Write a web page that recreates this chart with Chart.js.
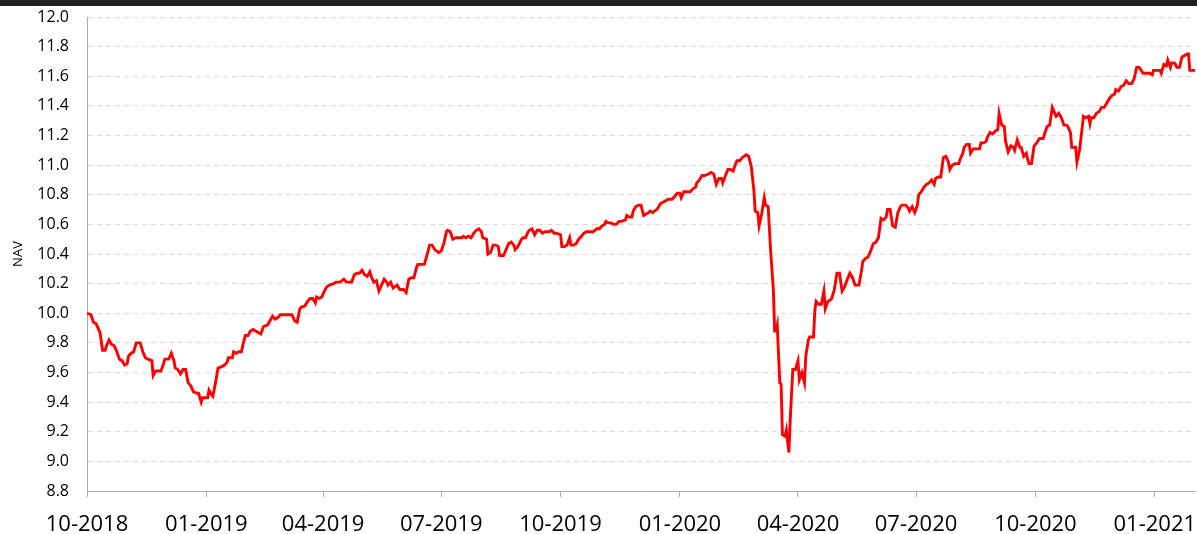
<!DOCTYPE html>
<html>
<head>
<meta charset="utf-8">
<script src="https://cdn.jsdelivr.net/npm/chart.js@4.4.0/dist/chart.umd.min.js"></script>
<style>
html, body { margin: 0; padding: 0; background: #fff; overflow: hidden; }
#bar { position: absolute; left: 0; top: 0; width: 1197px; height: 6px; background: #222; z-index: 2; }
#wrap { position: relative; width: 1197px; height: 553px; }
</style>
</head>
<body>
<div id="bar"></div>
<div id="wrap"><canvas id="myChart"></canvas></div>
<script>
// day offsets counted from startDate, NAV
const startDate = '2018-10-01';
const lastDay = 854;

const days = [
  0, 3, 5, 7, 9, 10, 12, 14, 15, 17, 19, 21, 23, 25, 27, 29, 31, 32, 34, 36, 38, 41, 43, 45, 47, 50,
  51, 53, 55, 57, 59, 60, 63, 65, 67, 68, 70, 72, 74, 76, 78, 80, 82, 85, 86, 88, 89, 91, 93, 94, 96, 97,
  99, 101, 104, 106, 108, 109, 112, 113, 115, 117, 119, 120, 122, 124, 126, 128, 130, 132, 134, 136, 139,
  141, 143, 145, 147, 149, 151, 155, 158, 160, 162, 164, 165, 168, 170, 172, 174, 176, 177, 179, 181, 183,
  185, 187, 190, 192, 195, 198, 200, 202, 204, 206, 208, 210, 212, 214, 216, 218, 219, 221, 223, 225, 227,
  229, 231, 232, 234, 236, 239, 241, 244, 246, 248, 250, 252, 254, 255, 258, 260, 262, 264, 266, 268, 271,
  273, 275, 277, 278, 280, 282, 284, 286, 289, 290, 292, 294, 296, 298, 300, 302, 304, 305, 308, 309, 311,
  313, 315, 317, 318, 321, 323, 325, 327, 329, 330, 332, 335, 336, 338, 340, 341, 343, 345, 347, 349, 351,
  353, 356, 358, 360, 362, 365, 366, 368, 370, 372, 373, 375, 377, 379, 381, 383, 385, 388, 390, 393, 395,
  397, 399, 400, 402, 404, 406, 408, 410, 412, 415, 416, 418, 420, 421, 423, 425, 427, 429, 431, 433, 434,
  436, 439, 440, 442, 444, 446, 448, 451, 453, 455, 457, 458, 460, 462, 465, 467, 469, 470, 472, 474, 476,
  479, 481, 483, 485, 487, 489, 490, 493, 494, 496, 498, 500, 501, 503, 505, 508, 510, 512, 514, 515, 517,
  518, 520, 522, 523, 525, 527, 529, 530, 531, 532, 534, 535, 536, 538, 539, 541, 542, 544, 546, 548, 549,
  551, 553, 554, 556, 557, 560, 561, 562, 564, 566, 568, 569, 571, 573, 574, 576, 578, 580, 582, 584, 586,
  588, 590, 592, 595, 597, 598, 600, 602, 604, 606, 608, 610, 612, 614, 616, 617, 619, 621, 623, 625, 627,
  628, 631, 633, 634, 636, 638, 640, 641, 643, 645, 647, 649, 651, 653, 654, 656, 658, 660, 662, 664, 665,
  667, 669, 672, 673, 675, 676, 678, 680, 681, 683, 686, 688, 689, 691, 693, 694, 696, 698, 700, 702, 703,
  705, 707, 708, 710, 712, 714, 715, 717, 719, 720, 722, 724, 725, 726, 728, 730, 732, 734, 737, 738, 740,
  742, 744, 745, 747, 749, 751, 753, 755, 756, 758, 759, 762, 763, 765, 767, 768, 770, 772, 773, 774, 776,
  778, 780, 782, 784, 786, 788, 790, 792, 793, 795, 797, 799, 801, 803, 805, 807, 809, 811, 814, 817, 819,
  821, 822, 825, 827, 828, 830, 832, 833, 835, 836, 838, 839, 840, 842, 844, 846, 848, 849, 850, 853, 854
];

const nav = [
  10.00, 9.99, 9.94, 9.93, 9.89, 9.87, 9.75, 9.75, 9.78, 9.82, 9.79, 9.78, 9.74, 9.69, 9.68, 9.65, 9.66, 9.71, 9.73, 9.74, 9.80, 9.80, 9.74, 9.70, 9.69, 9.68,
  9.58, 9.61, 9.61, 9.61, 9.66, 9.69, 9.69, 9.73, 9.68, 9.63, 9.62, 9.59, 9.62, 9.62, 9.53, 9.51, 9.47, 9.46, 9.46, 9.40, 9.43, 9.43, 9.43, 9.48, 9.45, 9.44,
  9.53, 9.63, 9.64, 9.65, 9.67, 9.70, 9.70, 9.74, 9.73, 9.74, 9.74, 9.78, 9.85, 9.85, 9.88, 9.89, 9.88, 9.87, 9.86, 9.91, 9.92,
  9.95, 9.98, 9.96, 9.97, 9.99, 9.99, 9.99, 9.99, 9.95, 9.94, 10.03, 10.04, 10.05, 10.08, 10.10, 10.10, 10.07, 10.11, 10.10, 10.11, 10.15,
  10.18, 10.19, 10.20, 10.21, 10.21, 10.23, 10.21, 10.21, 10.21, 10.26, 10.27, 10.27, 10.29, 10.26, 10.25, 10.28, 10.25, 10.21, 10.22, 10.15, 10.19,
  10.23, 10.21, 10.19, 10.21, 10.17, 10.19, 10.16, 10.16, 10.14, 10.23, 10.24, 10.24, 10.31, 10.33, 10.33, 10.33, 10.39, 10.46, 10.46, 10.43, 10.41,
  10.42, 10.47, 10.55, 10.56, 10.55, 10.50, 10.51, 10.51, 10.51, 10.52, 10.51, 10.52, 10.51, 10.54, 10.56, 10.57, 10.55, 10.51, 10.50, 10.40, 10.41,
  10.46, 10.46, 10.45, 10.39, 10.39, 10.43, 10.47, 10.48, 10.46, 10.43, 10.45, 10.50, 10.51, 10.51, 10.55, 10.56, 10.57, 10.53, 10.56, 10.56, 10.54,
  10.55, 10.55, 10.56, 10.54, 10.54, 10.53, 10.45, 10.45, 10.46, 10.51, 10.46, 10.46, 10.47, 10.50, 10.52, 10.54, 10.55, 10.55, 10.55, 10.57, 10.57,
  10.59, 10.60, 10.62, 10.61, 10.61, 10.60, 10.60, 10.62, 10.62, 10.63, 10.66, 10.65, 10.65, 10.69, 10.72, 10.73, 10.73, 10.66, 10.67, 10.68, 10.69,
  10.68, 10.70, 10.71, 10.74, 10.75, 10.76, 10.77, 10.77, 10.79, 10.81, 10.81, 10.78, 10.82, 10.82, 10.82, 10.84, 10.85, 10.88, 10.90, 10.93, 10.93,
  10.94, 10.95, 10.94, 10.87, 10.91, 10.91, 10.88, 10.95, 10.97, 10.97, 10.96, 11.01, 11.03, 11.03, 11.05, 11.07, 11.06, 10.99, 10.83, 10.69, 10.68,
  10.59, 10.67, 10.78, 10.73, 10.72, 10.41, 10.16, 9.88, 9.88, 9.92, 9.53, 9.52, 9.18, 9.17, 9.21, 9.06, 9.28, 9.62, 9.62, 9.68, 9.55,
  9.60, 9.53, 9.71, 9.82, 9.84, 9.84, 10.02, 10.08, 10.06, 10.06, 10.15, 10.03, 10.08, 10.09, 10.10, 10.16, 10.27, 10.27, 10.15, 10.18, 10.23,
  10.27, 10.24, 10.19, 10.19, 10.29, 10.35, 10.37, 10.38, 10.42, 10.47, 10.48, 10.51, 10.64, 10.63, 10.65, 10.70, 10.70, 10.59, 10.58, 10.68, 10.72,
  10.73, 10.73, 10.71, 10.69, 10.72, 10.68, 10.73, 10.80, 10.82, 10.85, 10.87, 10.88, 10.90, 10.87, 10.91, 10.92, 10.92, 11.05, 11.06, 11.02, 10.97,
  11.00, 11.01, 11.01, 11.04, 11.08, 11.12, 11.14, 11.14, 11.08, 11.11, 11.11, 11.11, 11.15, 11.15, 11.16, 11.19, 11.22, 11.21, 11.23, 11.24, 11.35,
  11.27, 11.26, 11.16, 11.09, 11.13, 11.12, 11.10, 11.17, 11.12, 11.12, 11.06, 11.08, 11.04, 11.01, 11.01, 11.13, 11.15, 11.18, 11.18, 11.21, 11.26,
  11.27, 11.39, 11.37, 11.33, 11.35, 11.32, 11.27, 11.27, 11.26, 11.22, 11.12, 11.12, 11.02, 11.10, 11.25, 11.33, 11.32, 11.33, 11.28, 11.32, 11.32,
  11.35, 11.36, 11.39, 11.39, 11.42, 11.45, 11.47, 11.48, 11.51, 11.50, 11.53, 11.54, 11.57, 11.55, 11.55, 11.58, 11.66, 11.66, 11.62, 11.62, 11.62,
  11.61, 11.64, 11.64, 11.64, 11.62, 11.68, 11.67, 11.71, 11.66, 11.69, 11.69, 11.68, 11.66, 11.66, 11.73, 11.74, 11.75, 11.75, 11.64, 11.64, 11.64
];

const tickDates = ['2018-10-01', '2019-01-01', '2019-04-01', '2019-07-01', '2019-10-01',
  '2020-01-01', '2020-04-01', '2020-07-01', '2020-10-01', '2021-01-01'];
const tickLabels = ['10-2018', '01-2019', '04-2019', '07-2019', '10-2019',
  '01-2020', '04-2020', '07-2020', '10-2020', '01-2021'];

const yMin = 8.8, yMax = 12.0, yStep = 0.2;

const dayOf = d => Math.round((Date.parse(d) - Date.parse(startDate)) / 86400000);
const tickDays = tickDates.map(dayOf);

Chart.defaults.font.family = "'Open Sans', sans-serif";
Chart.defaults.color = '#000';

const ctx = document.getElementById('myChart').getContext('2d');

const myChart = new Chart(ctx, {
  type: 'line',
  data: {
    datasets: [{
      label: 'NAV',
      data: days.map((d, i) => ({ x: d, y: nav[i] })),
      borderColor: '#ff0000',
      backgroundColor: '#ff0000',
      borderWidth: 2.9,
      pointRadius: 0,
      tension: 0,
      fill: false
    }]
  },
  options: {
    animation: false,
    responsive: true,
    maintainAspectRatio: false,
    layout: { padding: { left: 10, top: 17, right: 2, bottom: 0 } },
    plugins: {
      legend: { display: false },
      tooltip: { enabled: false }
    },
    scales: {
      x: {
        type: 'linear',
        min: 0,
        max: lastDay,
        afterBuildTicks: scale => { scale.ticks = tickDays.map(v => ({ value: v })); },
        afterFit: scale => { scale.paddingLeft = 0; scale.paddingRight = 0; },
        ticks: {
          autoSkip: false,
          maxRotation: 0,
          padding: 17,
          font: { size: 22, lineHeight: 1.0 },
          callback: (v, i) => tickLabels[i]
        },
        grid: {
          drawOnChartArea: false,
          drawTicks: true,
          tickLength: 6,
          color: '#aaaaaa'
        },
        border: { color: '#aaaaaa', width: 1 }
      },
      y: {
        min: yMin,
        max: yMax,
        afterFit: scale => { scale.width = 77; scale.paddingTop = 0; scale.paddingBottom = 0; },
        ticks: {
          stepSize: yStep,
          padding: 18,
          font: { size: 16 },
          callback: v => v.toFixed(1)
        },
        grid: {
          color: '#d9d9d9',
          drawTicks: false
        },
        border: { color: '#aaaaaa', dash: [5, 4] },
        title: {
          display: true,
          text: 'NAV',
          font: { size: 13 },
          padding: { top: 0, bottom: 0 }
        }
      }
    }
  }
});
</script>
</body>
</html>
